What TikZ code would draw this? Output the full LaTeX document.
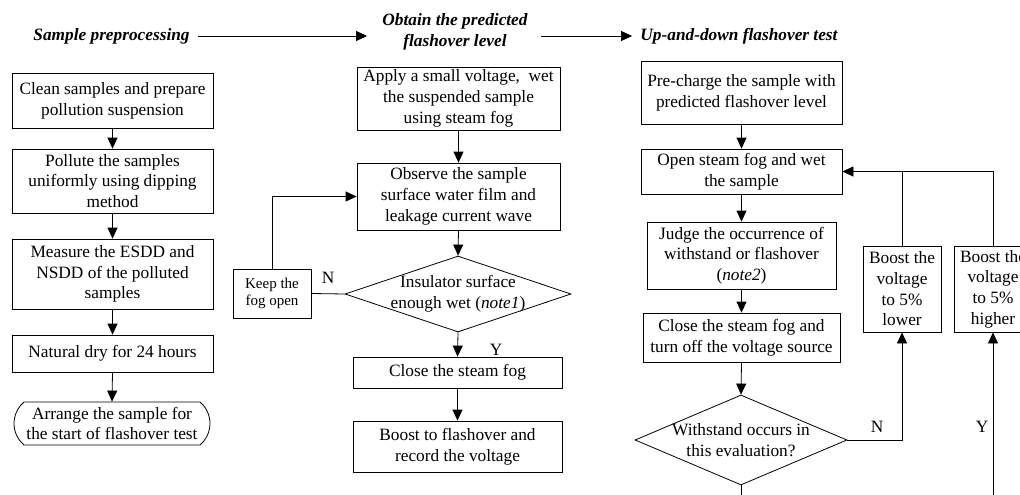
\documentclass[tikz,border=0pt]{standalone}
\usepackage{fontspec}
\setmainfont{Liberation Serif}
\usetikzlibrary{arrows.meta,shapes.geometric,shapes.misc}
\begin{document}
\begin{tikzpicture}[x=1pt,y=-1pt,
  font=\fontsize{17.3pt}{20.7pt}\selectfont,
  line width=0.8pt,
  arr/.style={-{Triangle[length=11pt,width=10pt]}},
  box/.style={draw, rectangle, align=center, inner sep=0pt},
  dia/.style={draw, diamond, inner sep=0pt},
  ttl/.style={font=\fontsize{17.3pt}{21pt}\selectfont\bfseries\itshape, align=center, inner sep=0pt},
  lbl/.style={inner sep=0pt}]
\clip (0,0) rectangle (1020,495);
\useasboundingbox (0,0) rectangle (1020,495);
% titles
\node[ttl] (t1) at (111.5,36) {Sample preprocessing};
\node[ttl] (t2) at (455,32) {Obtain the predicted\\flashover level};
\node[ttl] (t3) at (739,36) {Up-and-down flashover test};
\draw[arr] ([xshift=8pt]t1.east) -- ([xshift=-15pt]t2.west |- t1.east);
\draw[arr] ([xshift=13pt]t2.east |- t1.east) -- ([xshift=-8pt]t3.west);
% left column
\node[box, minimum width=201, minimum height=55] (b1) at (112.5,100.5) {Clean samples and prepare\\pollution suspension};
\node[box, minimum width=201, minimum height=64] (b2) at (112.5,181) {Pollute the samples\\uniformly using dipping\\method};
\node[box, minimum width=201, minimum height=70] (b3) at (112.5,274) {Measure the ESDD and\\NSDD of the polluted\\samples};
\node[box, minimum width=201, minimum height=37] (b4) at (112.5,353.5) {Natural dry for 24 hours};
\node[draw, rounded rectangle, rounded rectangle arc length=100, minimum width=196, minimum height=43, inner sep=0pt] (b5) at (112,423.5) {};
\node[align=center, inner sep=0pt] (b5t) at (b5) {Arrange the sample for\\the start of flashover test};
\draw[arr] (b1.south) -- (b2.north);
\draw[arr] (b2.south) -- (b3.north);
\draw[arr] (b3.south) -- (b4.north);
\draw[arr] (b4.south) -- (b5.north);
% middle column
\node[box, minimum width=203, minimum height=63] (apply) at (458.5,98.5) {Apply a small voltage,~ wet\\the suspended sample\\using steam fog};
\node[box, minimum width=203, minimum height=67] (obs) at (458.5,196.5) {Observe the sample\\surface water film and\\leakage current wave};
\node[dia, minimum width=226, minimum height=76] (d1) at (458,294) {};
\node[align=center, inner sep=0pt] (d1t) at (d1) {Insulator surface\\enough wet (\textit{note1})};
\node[box, minimum width=209, minimum height=31] (close) at (457.5,372.5) {Close the steam fog};
\node[box, minimum width=209, minimum height=51] (boost) at (457.5,446.5) {Boost to flashover and\\record the voltage};
\node[box, minimum width=78, minimum height=49, font=\fontsize{15pt}{17pt}\selectfont] (keep) at (272,293.5) {Keep the\\fog open};
\draw[arr] (apply.south) -- (obs.north);
\draw[arr] (obs.south) -- (d1.north);
\draw[arr] (d1.south) -- (close.north);
\draw[arr] (close.south) -- (boost.north);
\draw (d1.west) -- (keep.east);
\draw[arr] (keep.north) |- (obs.west);
\node[lbl] (n1) at (328,278) {N};
\node[lbl] (y1) at (496,350) {Y};
% right column
\node[box, minimum width=201, minimum height=63] (pre) at (741.5,92.5) {Pre-charge the sample with\\predicted flashover level};
\node[box, minimum width=201, minimum height=45] (open) at (741.5,171.5) {Open steam fog and wet\\the sample};
\node[box, minimum width=189, minimum height=67] (judge) at (741.5,255.5) {Judge the occurrence of\\withstand or flashover\\(\textit{note2})};
\node[box, minimum width=197, minimum height=49] (closeoff) at (741.5,337.5) {Close the steam fog and\\turn off the voltage source};
\node[dia, minimum width=212, minimum height=90] (d2) at (741,440) {};
\node[align=center, inner sep=0pt] (d2t) at (741,440) {Withstand occurs in\\this evaluation?};
\node[box, minimum width=78, minimum height=86] (lower) at (902,289) {Boost the\\voltage\\to 5\%\\lower};
\node[box, minimum width=78, minimum height=86] (higher) at (993,289) {Boost the\\voltage\\to 5\%\\higher};
\coordinate (bot) at (741,520);
\draw[arr] (pre.south) -- (open.north);
\draw[arr] (open.south) -- (judge.north);
\draw[arr] (judge.south) -- (closeoff.north);
\draw[arr] (closeoff.south) -- (d2.north);
\draw[arr] (d2.east) -| (lower.south);
\draw[arr] (lower.north) |- (open.east);
\draw (higher.north) |- (lower.north |- open.east);
\draw[arr] (d2.south) -- (bot) -| (higher.south);
\node[lbl] (n2) at (877,427) {N};
\node[lbl] (y2) at (982,427) {Y};
\end{tikzpicture}
\end{document}
